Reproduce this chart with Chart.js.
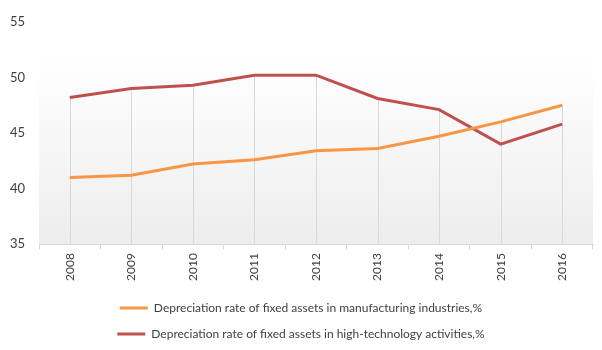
<!DOCTYPE html>
<html>
<head>
<meta charset="utf-8">
<script src="https://cdn.jsdelivr.net/npm/chart.js@4/dist/chart.umd.min.js"></script>
<style>
html,body{margin:0;padding:0;background:#fff;}
#wrap{width:602px;height:350px;position:relative;}
</style>
</head>
<body>
<div id="wrap"><canvas id="c" width="602" height="350"></canvas></div>
<script>
const years = ["2008","2009","2010","2011","2012","2013","2014","2015","2016"];
const manufacturing = [41.0, 41.2, 42.2, 42.6, 43.4, 43.6, 44.7, 46.0, 47.5];
const highTech = [48.2, 49.0, 49.3, 50.2, 50.2, 48.1, 47.1, 44.0, 45.8];
const seriesNames = [
  "Depreciation rate of fixed assets in manufacturing industries,%",
  "Depreciation rate of fixed assets in high-technology activities,%"
];
const yTicks = [35, 40, 45, 50, 55];

const bgPlugin = {
  id: 'bg',
  beforeDraw(chart) {
    const {ctx, chartArea: a} = chart;
    const g = ctx.createLinearGradient(0, a.top, 0, a.bottom);
    g.addColorStop(0, '#ffffff');
    g.addColorStop(0.15, '#ffffff');
    g.addColorStop(1, '#ededed');
    ctx.save();
    ctx.fillStyle = g;
    ctx.fillRect(a.left, a.top, a.right - a.left, a.bottom - a.top);
    ctx.restore();
  }
};

const dropLines = {
  id: 'drop',
  beforeDatasetsDraw(chart) {
    const {ctx, chartArea: a, scales} = chart;
    ctx.save();
    ctx.strokeStyle = '#d9d9d9';
    ctx.lineWidth = 1;
    years.forEach((yr, i) => {
      const top = Math.max(...chart.data.datasets.map(d => d.data[i]));
      const x = Math.round(scales.x.getPixelForValue(i)) + 0.5;
      ctx.beginPath();
      ctx.moveTo(x, scales.y.getPixelForValue(top));
      ctx.lineTo(x, a.bottom);
      ctx.stroke();
    });
    ctx.restore();
  }
};

new Chart(document.getElementById('c'), {
  type: 'line',
  data: {
    labels: years,
    datasets: [
      {label: seriesNames[0], data: manufacturing, borderColor: '#f79646', backgroundColor: '#f79646', borderWidth: 3, pointRadius: 0, tension: 0},
      {label: seriesNames[1], data: highTech, borderColor: '#c0504d', backgroundColor: '#c0504d', borderWidth: 3, pointRadius: 0, tension: 0}
    ]
  },
  options: {
    responsive: false,
    animation: false,
    layout: {padding: {top: 5, right: 9, left: 9, bottom: 0}},
    plugins: {
      tooltip: {enabled: false},
      legend: {
        position: 'bottom',
        labels: {
          font: {family: 'Lato', size: 12},
          color: '#404040',
          boxWidth: 28,
          boxHeight: 3,
          padding: 14,
          generateLabels(chart) {
            return chart.data.datasets.map((d, i) => ({
              text: d.label, fillStyle: d.borderColor, strokeStyle: d.borderColor,
              lineWidth: 0, datasetIndex: i, hidden: false, fontColor: '#404040'
            }));
          }
        }
      }
    },
    scales: {
      x: {
        offset: true,
        afterFit(scale) { scale.height += 3; scale.paddingLeft = 0; scale.paddingRight = 0; },
        grid: {drawOnChartArea: false, drawTicks: true, tickLength: 5, color: '#d9d9d9', offset: true},
        border: {display: true, color: '#d9d9d9'},
        ticks: {minRotation: 90, maxRotation: 90, color: '#404040', font: {family: 'Lato', size: 12}, padding: 4}
      },
      y: {
        min: 35, max: 55,
        afterBuildTicks(scale) { scale.ticks = yTicks.map(v => ({value: v})); },
        afterFit(scale) { scale.width = 30; },
        grid: {display: false, drawTicks: false},
        border: {display: false},
        ticks: {color: '#404040', font: {family: 'Lato', size: 13}, padding: 14}
      }
    }
  },
  plugins: [bgPlugin, dropLines]
});
</script>
</body>
</html>
